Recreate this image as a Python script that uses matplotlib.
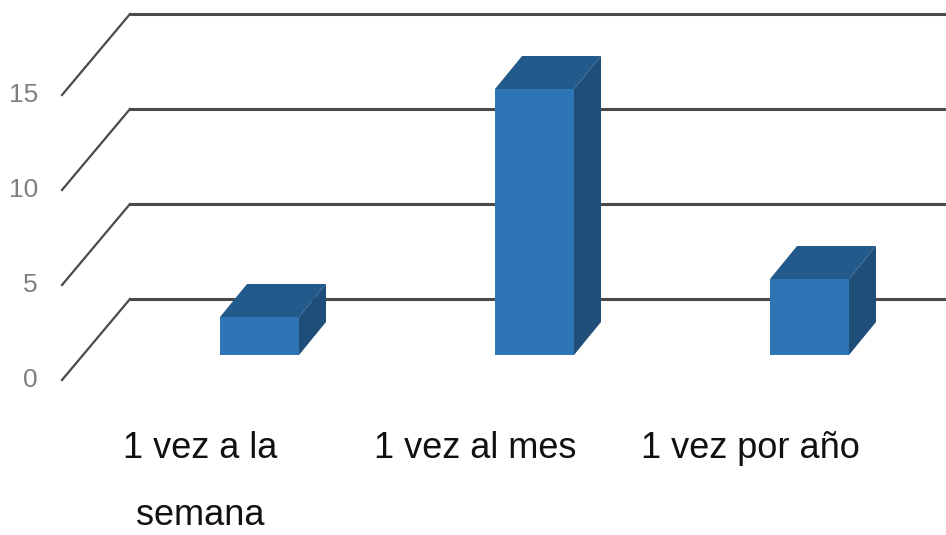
import matplotlib
matplotlib.use('Agg')
import matplotlib.pyplot as plt
from matplotlib.patches import Polygon

categories = ['1 vez a la\nsemana', '1 vez al mes', '1 vez por año']
values = [2, 14, 4]
y_ticks = [0, 5, 10, 15]

# escala del dibujo: pixeles por categoria y por unidad
px_x = 275
px_y = 19
w, h = 946, 535
x0, y0 = 259.5, 380

# profundidad 3D en unidades de datos
depth_x = 68 / px_x
depth_y = 81 / px_y
bar_dx = 27 / px_x
bar_dy = 33 / px_y
bar_w = 79 / px_x
base = 25 / px_y

plt.rcParams['font.family'] = ['Liberation Sans', 'DejaVu Sans']

fig = plt.figure(figsize=(w / 100, h / 100), dpi=100)
ax = fig.add_axes([0, 0, 1, 1])
ax.set_xlim(-x0 / px_x, (w - x0) / px_x)
ax.set_ylim((y0 - h) / px_y, y0 / px_y)
ax.axis('off')

left = (62 - x0) / px_x

# rejilla
for t in y_ticks:
    ax.plot([left, left + depth_x], [t, t + depth_y], color='#4a4a4a', lw=1.6, zorder=1)
    ax.plot([left + depth_x, ax.get_xlim()[1]], [t + depth_y, t + depth_y], color='#4a4a4a', lw=2.2, zorder=1)
    ax.text(left - 24 / px_x, t, str(t), fontsize=19, color='#7f7f7f', ha='right', va='center')

# barras
for i, v in enumerate(values):
    l = i - bar_w / 2
    r = i + bar_w / 2
    top = v + base
    ax.add_patch(Polygon([(l, base), (r, base), (r, top), (l, top)], color='#2e75b6', lw=0, zorder=2))
    ax.add_patch(Polygon([(l, top), (r, top), (r + bar_dx, top + bar_dy), (l + bar_dx, top + bar_dy)],
                         color='#225a8c', lw=0, zorder=2))
    ax.add_patch(Polygon([(r, base), (r + bar_dx, base + bar_dy), (r + bar_dx, top + bar_dy), (r, top)],
                         color='#1f4e79', lw=0, zorder=2))

# etiquetas
for i, c in enumerate(categories):
    for j, t in enumerate(c.split('\n')):
        ax.text(i - 59 / px_x, (y0 - 458 - j * 67) / px_y, t,
                fontsize=26, color='#111111', ha='center', va='baseline')

fig.savefig('out.png', dpi=100)
